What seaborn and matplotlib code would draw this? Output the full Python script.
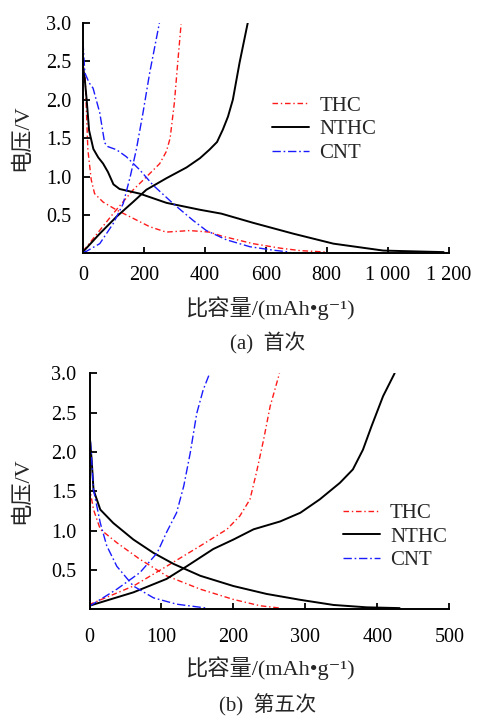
import numpy as np
import pandas as pd
import matplotlib
matplotlib.use("Agg")
import matplotlib.pyplot as plt
from matplotlib.lines import Line2D
import seaborn as sns

# ---------------- data: panel (a) first cycle ----------------
a_thc_dis_x = [0, 7, 16, 27, 38, 66, 109, 164, 219, 273, 350, 415, 454, 558, 650, 712, 800]
a_thc_dis_y = [2.45, 2.30, 1.35, 0.96, 0.78, 0.67, 0.57, 0.46, 0.35, 0.28, 0.30, 0.28, 0.23, 0.13, 0.07, 0.04, 0.02]
a_thc_chg_x = [0, 12, 99, 165, 209, 252, 274, 286, 300, 311, 322]
a_thc_chg_y = [0.03, 0.09, 0.52, 0.83, 1.00, 1.17, 1.33, 1.50, 1.96, 2.48, 2.98]

a_nthc_dis_x = [0, 5, 12, 20, 34, 50, 66, 82, 100, 120, 142, 186, 274, 384, 454, 559, 690, 822, 986, 1184]
a_nthc_dis_y = [2.43, 2.30, 2.00, 1.60, 1.36, 1.25, 1.17, 1.06, 0.90, 0.84, 0.82, 0.78, 0.66, 0.57, 0.52, 0.40, 0.26, 0.13, 0.04, 0.02]
a_nthc_chg_x = [0, 5, 55, 110, 164, 208, 274, 340, 384, 415, 440, 459, 476, 492, 514, 541]
a_nthc_chg_y = [0.03, 0.045, 0.26, 0.48, 0.67, 0.83, 0.98, 1.12, 1.24, 1.35, 1.45, 1.61, 1.78, 2.00, 2.48, 3.00]

a_cnt_dis_x = [0, 6, 20, 33, 55, 71, 82, 110, 142, 186, 230, 296, 362, 405, 471, 548, 625, 680]
a_cnt_dis_y = [2.75, 2.35, 2.22, 2.15, 1.83, 1.44, 1.39, 1.35, 1.26, 1.09, 0.89, 0.65, 0.43, 0.30, 0.18, 0.09, 0.045, 0.02]
a_cnt_chg_x = [0, 11, 55, 99, 132, 155, 175, 197, 219, 251]
a_cnt_chg_y = [0.02, 0.03, 0.13, 0.39, 0.65, 1.00, 1.35, 1.83, 2.35, 3.00]

# ---------------- data: panel (b) fifth cycle ----------------
b_thc_dis_x = [0, 2, 5.6, 15, 38, 70, 107, 154, 200, 237, 265]
b_thc_dis_y = [1.57, 1.45, 1.27, 1.02, 0.85, 0.64, 0.43, 0.26, 0.13, 0.05, 0.02]
b_thc_chg_x = [0, 1, 61, 107, 154, 191, 209, 223, 232, 242, 251, 264]
b_thc_chg_y = [0.05, 0.07, 0.30, 0.55, 0.81, 1.02, 1.19, 1.40, 1.74, 2.16, 2.58, 3.00]

b_nthc_dis_x = [0, 3, 5.6, 15, 33, 61, 89, 117, 154, 200, 246, 293, 339, 385, 431]
b_nthc_dis_y = [2.24, 1.90, 1.52, 1.27, 1.10, 0.89, 0.72, 0.58, 0.43, 0.30, 0.20, 0.125, 0.06, 0.03, 0.02]
b_nthc_chg_x = [0, 61, 107, 135, 172, 200, 228, 265, 293, 320, 348, 366, 380, 392, 408, 424]
b_nthc_chg_y = [0.05, 0.22, 0.39, 0.55, 0.77, 0.89, 1.02, 1.12, 1.23, 1.40, 1.61, 1.78, 2.03, 2.33, 2.71, 3.00]

b_cnt_dis_x = [0, 5.6, 15, 24, 38, 61, 89, 121, 163]
b_cnt_dis_y = [2.33, 1.52, 1.10, 0.81, 0.55, 0.30, 0.15, 0.07, 0.02]
b_cnt_chg_x = [0, 1, 38, 70, 94, 107, 121, 131, 140, 149, 158, 167]
b_cnt_chg_y = [0.04, 0.05, 0.26, 0.47, 0.72, 0.98, 1.23, 1.57, 1.99, 2.49, 2.79, 3.00]

samples = ["THC", "NTHC", "CNT"]
a_xticks = [0, 200, 400, 600, 800, 1000, 1200]
a_xticklabels = ["0", "200", "400", "600", "800", "1 000", "1 200"]
b_xticks = [0, 100, 200, 300, 400, 500]
b_xticklabels = ["0", "100", "200", "300", "400", "500"]
yticks = [0.5, 1.0, 1.5, 2.0, 2.5, 3.0]
yticklabels = ["0.5", "1.0", "1.5", "2.0", "2.5", "3.0"]
xlabel = "比容量/(mAh\u2022g\u207b\u00b9)"
ylabel = "电压/V"
captions = ["(a)  首次", "(b)  第五次"]


def frame(curves):
    rows = []
    for sample, branch, xs, ys in curves:
        for i, (x, y) in enumerate(zip(xs, ys)):
            rows.append(dict(sample=sample, curve=f"{sample}-{branch}", order=i, cap=x, V=y))
    return pd.DataFrame(rows)


df_a = frame([
    ("THC", "dis", a_thc_dis_x, a_thc_dis_y), ("THC", "chg", a_thc_chg_x, a_thc_chg_y),
    ("NTHC", "dis", a_nthc_dis_x, a_nthc_dis_y), ("NTHC", "chg", a_nthc_chg_x, a_nthc_chg_y),
    ("CNT", "dis", a_cnt_dis_x, a_cnt_dis_y), ("CNT", "chg", a_cnt_chg_x, a_cnt_chg_y),
])
df_b = frame([
    ("THC", "dis", b_thc_dis_x, b_thc_dis_y), ("THC", "chg", b_thc_chg_x, b_thc_chg_y),
    ("NTHC", "dis", b_nthc_dis_x, b_nthc_dis_y), ("NTHC", "chg", b_nthc_chg_x, b_nthc_chg_y),
    ("CNT", "dis", b_cnt_dis_x, b_cnt_dis_y), ("CNT", "chg", b_cnt_chg_x, b_cnt_chg_y),
])

sns.set_theme(style="ticks")
plt.rcParams["font.family"] = ["Liberation Serif", "Noto Sans CJK SC", "DejaVu Sans"]
plt.rcParams["axes.unicode_minus"] = False

palette = {"THC": "#ff1a1a", "NTHC": "#000000", "CNT": "#1a1aff"}
dashes = {"THC": (4, 2, 1, 2), "NTHC": "", "CNT": (6, 2, 1.2, 2)}
widths = {"THC": 1.0, "NTHC": 1.4, "CNT": 1.0}

W, H = 478, 716
fig = plt.figure(figsize=(W / 100, H / 100), dpi=100)


def make_axes(l, r, t, b):
    return fig.add_axes([l / W, 1 - b / H, (r - l) / W, (b - t) / H])


ax_a = make_axes(83, 448.5, 22.7, 252.5)
ax_b = make_axes(89.5, 449.3, 373.3, 608.5)

panels = [
    (ax_a, df_a, 1200, a_xticks, a_xticklabels, 10.0, 8.6, (0.518, 0.535), 308, 343, -0.138),
    (ax_b, df_b, 500, b_xticks, b_xticklabels, 14.0, 9.7, (0.705, 0.305), 668, 705, -0.158),
]

for i, (ax, df, xmax, xt, xtl, xpad, ypad, legpos, xl_y, cap_y, ylx) in enumerate(panels):
    for s in samples:
        sub = df[df["sample"] == s]
        for c, g in sub.groupby("curve", sort=False):
            sns.lineplot(data=g, x="cap", y="V", sort=False, estimator=None,
                         color=palette[s], lw=widths[s], ax=ax,
                         dashes=dashes[s] if dashes[s] else (None, None),
                         legend=False, clip_on=True)
    ax.set_xlim(0, xmax)
    ax.set_ylim(0.015, 3.0)
    ax.set_xticks(xt)
    ax.set_xticklabels(xtl)
    ax.set_yticks(yticks)
    ax.set_yticklabels(yticklabels)
    ax.set_xlabel("")
    ax.set_ylabel(ylabel, fontsize=16)
    ax.yaxis.set_label_coords(ylx, 0.5)
    ax.tick_params(axis="x", direction="in", length=4, width=1.3, labelsize=14.5, pad=xpad, colors="black")
    ax.tick_params(axis="y", direction="in", length=5, width=1.3, labelsize=14.5, pad=ypad, colors="black")
    for sp in ["top", "right"]:
        ax.spines[sp].set_visible(False)
    for sp in ["left", "bottom"]:
        ax.spines[sp].set_linewidth(1.4)
        ax.spines[sp].set_color("black")
    ax.set_facecolor("white")

    handles = []
    for s in samples:
        kw = dict(color=palette[s], lw=widths[s])
        if dashes[s]:
            kw["dashes"] = dashes[s]
        handles.append(Line2D([0], [0], **kw))
    ax.legend(handles, samples, loc="center left", bbox_to_anchor=legpos, frameon=False,
              fontsize=15, handlelength=1.75, handletextpad=0.5, labelspacing=0.2,
              borderpad=0, borderaxespad=0)

    fig.text(270 / W, 1 - xl_y / H, xlabel, ha="center", va="center", fontsize=16)
    fig.text(268 / W, 1 - cap_y / H, captions[i], ha="center", va="center", fontsize=15)

fig.savefig("out.png", dpi=100, facecolor="white")
